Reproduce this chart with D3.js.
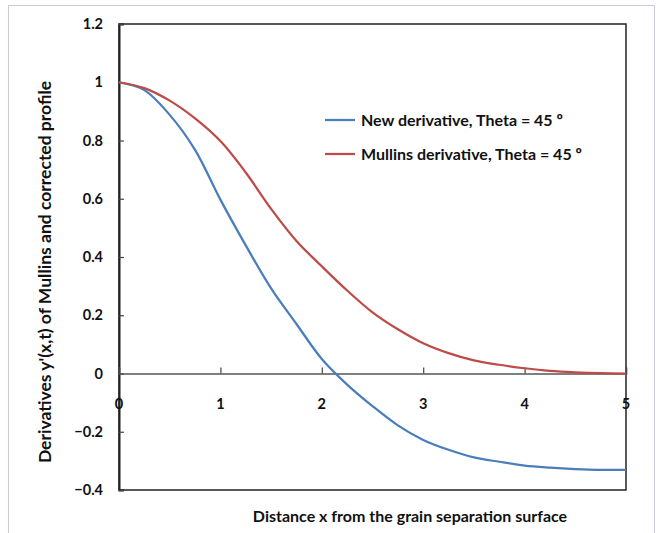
<!DOCTYPE html>
<html>
<head>
<meta charset="utf-8">
<script src="https://cdn.jsdelivr.net/npm/d3@7"></script>
<style>
  html, body { margin: 0; padding: 0; background: #fff; }
  svg { display: block; }
  text { font-family: Lato, "Open Sans", sans-serif; font-weight: bold; fill: #111; }
</style>
</head>
<body>
<svg id="chart" width="661" height="533"></svg>
<script>
// Distance from the grain separation surface
const xValues = [0, 0.25, 0.5, 0.75, 1, 1.25, 1.5, 1.75, 2, 2.25, 2.5, 2.75,
                 3, 3.25, 3.5, 3.75, 4, 4.25, 4.5, 4.75, 5];
// New (corrected) derivative, Theta = 45
const newDerivative = [1.0, 0.973, 0.888, 0.768, 0.597, 0.44, 0.292, 0.17, 0.05, -0.038,
                       -0.112, -0.178, -0.228, -0.262, -0.288, -0.303, -0.316, -0.323,
                       -0.328, -0.331, -0.331];
// Mullins derivative, Theta = 45
const mullinsDerivative = [1.0, 0.98, 0.937, 0.876, 0.798, 0.69, 0.565, 0.455, 0.368, 0.285,
                           0.21, 0.152, 0.104, 0.07, 0.045, 0.03, 0.018, 0.009,
                           0.004, 0.001, 0.0];
const xTicks = [0, 1, 2, 3, 4, 5];
const yTicks = [-0.4, -0.2, 0, 0.2, 0.4, 0.6, 0.8, 1, 1.2];
const seriesNames = ["New derivative, Theta = 45 º", "Mullins derivative, Theta = 45 º"];
const seriesColors = ["#4a7ebb", "#be4b48"];

const svg = d3.select("#chart");

// outer chart border
svg.append("rect")
  .attr("x", 8.5).attr("y", 5.5).attr("width", 646).attr("height", 540)
  .attr("fill", "none").attr("stroke", "#c9c9df").attr("stroke-width", 1);

const plot = { left: 119, right: 626, top: 24, bottom: 490 };
const x = d3.scaleLinear().domain([0, 5]).range([plot.left, plot.right]);
const y = d3.scaleLinear().domain([-0.4, 1.2]).range([plot.bottom, plot.top]);

// plot frame
svg.append("rect")
  .attr("x", plot.left).attr("y", plot.top)
  .attr("width", plot.right - plot.left).attr("height", plot.bottom - plot.top)
  .attr("fill", "none").attr("stroke", "#222").attr("stroke-width", 1.5);

// y axis (ticks pointing inward)
const yAxis = svg.append("g")
  .attr("transform", `translate(${plot.left},0)`)
  .call(d3.axisRight(y).tickValues(yTicks).tickSize(5).tickFormat(() => ""));
yAxis.select(".domain").attr("stroke", "#222").attr("stroke-width", 2);
yAxis.selectAll(".tick line").attr("stroke", "#444").attr("stroke-width", 1.2);

svg.append("g").selectAll("text")
  .data(yTicks).join("text")
  .attr("x", 103).attr("y", d => y(d))
  .attr("dy", "0.35em")
  .attr("text-anchor", "end")
  .attr("font-size", 14.5)
  .text(d => d3.format("")(+d.toFixed(1)));

// x axis along y = 0 (ticks pointing up)
const xAxis = svg.append("g")
  .attr("transform", `translate(0,${y(0)})`)
  .call(d3.axisTop(x).tickValues(xTicks).tickSize(6).tickFormat(() => ""));
xAxis.select(".domain").attr("stroke", "#555").attr("stroke-width", 1.5);
xAxis.selectAll(".tick line").attr("stroke", "#444").attr("stroke-width", 1.2);

svg.append("g").selectAll("text")
  .data(xTicks).join("text")
  .attr("x", d => x(d)).attr("y", y(0) + 30)
  .attr("dy", "0.35em")
  .attr("text-anchor", "middle")
  .attr("font-size", 14.5)
  .text(d => d);

// series lines
const line = d3.line()
  .x((d, i) => x(xValues[i]))
  .y(d => y(d))
  .curve(d3.curveCatmullRom.alpha(0.5));

[newDerivative, mullinsDerivative].forEach((s, k) => {
  svg.append("path")
    .datum(s)
    .attr("fill", "none")
    .attr("stroke", seriesColors[k])
    .attr("stroke-width", 2.25)
    .attr("d", line);
});

// legend
const legend = svg.append("g");
seriesNames.forEach((name, k) => {
  const ly = 120 + k * 34;
  legend.append("line")
    .attr("x1", 325).attr("x2", 355).attr("y1", ly).attr("y2", ly)
    .attr("stroke", seriesColors[k]).attr("stroke-width", 2.25);
  legend.append("text")
    .attr("x", 361).attr("y", ly).attr("dy", "0.35em")
    .attr("font-size", 16)
    .text(name);
});

// axis titles
svg.append("text")
  .attr("x", 410).attr("y", 522)
  .attr("text-anchor", "middle")
  .attr("font-size", 16)
  .text("Distance x from the grain separation surface");

svg.append("text")
  .attr("transform", "translate(45,272) rotate(-90)")
  .attr("text-anchor", "middle")
  .attr("dy", "0.35em")
  .attr("font-size", 17.5)
  .text("Derivatives y'(x,t) of Mullins and corrected profile");
</script>
</body>
</html>
